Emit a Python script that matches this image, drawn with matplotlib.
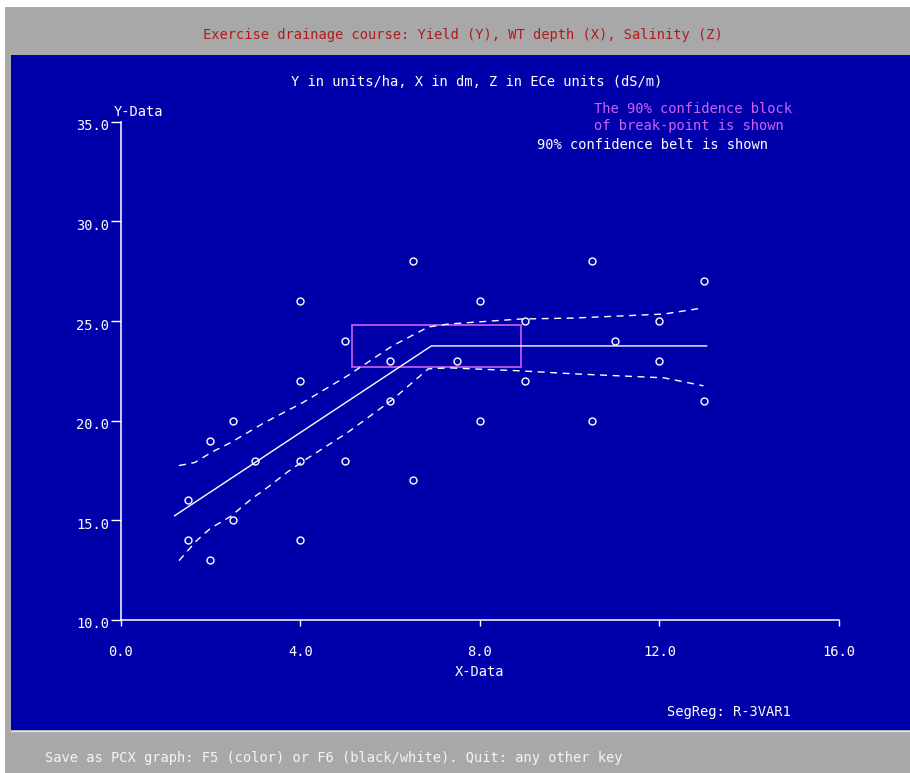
import matplotlib
matplotlib.use("Agg")
import matplotlib.pyplot as plt
import matplotlib.transforms as mtransforms
from matplotlib.patches import Rectangle
from matplotlib.lines import Line2D

W, H = 910, 773

# ---- data ----
pts_x = [1.5, 1.5, 2, 2, 2.5, 2.5, 3, 4, 4, 4, 4, 5, 5, 6, 6, 6.5, 6.5, 7.5,
         8, 8, 9, 9, 10.5, 10.5, 11, 12, 12, 13, 13]
pts_y = [16, 14, 19, 13, 20, 15, 18, 26, 22, 18, 14, 24, 18, 23, 21, 28, 17, 23,
         26, 20, 25, 22, 28, 20, 24, 25, 23, 27, 21]

fit_x = [1.2, 6.92, 13.05]
fit_y = [15.23, 23.75, 23.75]

up_x = [1.3, 1.65, 2.05, 2.45, 2.9, 3.2, 4.05, 5.05, 6.05, 6.85, 7.3, 8.9, 10.1, 12.1, 12.95]
up_y = [17.75, 17.9, 18.45, 18.9, 19.5, 19.9, 20.9, 22.25, 23.75, 24.7, 24.85, 25.1, 25.15, 25.35, 25.65]

lo_x = [1.3, 1.7, 2.0, 2.45, 2.9, 3.3, 3.7, 4.05, 5.05, 6.05, 6.85, 7.3, 8.9, 10.1, 12.1, 12.98]
lo_y = [12.98, 14.0, 14.6, 15.2, 16.05, 16.7, 17.4, 17.95, 19.4, 21.05, 22.6, 22.65, 22.5, 22.35, 22.15, 21.75]

block_x = [5.15, 8.92]
block_y = [22.7, 24.8]

xticks = [0.0, 4.0, 8.0, 12.0, 16.0]
yticks = [10.0, 15.0, 20.0, 25.0, 30.0, 35.0]

BLUE = "#0000AA"
GREY = "#A8A8A8"
RED = "#B01C1C"
MAG = "#D060F0"
FONT = "DejaVu Sans Mono"
FS = 9.9

plt.rcParams["font.family"] = FONT

fig = plt.figure(figsize=(W / 100, H / 100), dpi=100)
fig.patch.set_facecolor("white")

def fx(px):
    return px / W

def fy(py):
    return 1 - py / H

# frame
fig.patches.append(Rectangle((fx(5), 0), 1 - fx(5), fy(7), transform=fig.transFigure,
                             facecolor=GREY, edgecolor="none", zorder=-10))
fig.patches.append(Rectangle((fx(11), fy(730)), 1 - fx(11), fy(55) - fy(730),
                             transform=fig.transFigure, facecolor=BLUE, edgecolor="none", zorder=-9))
fig.lines.append(Line2D([fx(11), 1], [fy(730.5), fy(730.5)], transform=fig.transFigure,
                        color="#E0E0F0", lw=1.0, zorder=-8))

# axes
x0, x1 = 120.7, 839.0
y0, y1 = 620.0, 121.7
ax = fig.add_axes([fx(x0), fy(y0), fx(x1) - fx(x0), fy(y1) - fy(y0)])
ax.set_zorder(1)
ax.set_facecolor("none")
ax.set_xlim(0, 16)
ax.set_ylim(10, 35)
for s in ["top", "right"]:
    ax.spines[s].set_visible(False)
for s in ["left", "bottom"]:
    ax.spines[s].set_color("white")
    ax.spines[s].set_linewidth(1.1)
ax.set_xticks(xticks)
ax.set_xticklabels([f"{v:.1f}" for v in xticks])
ax.set_yticks(yticks)
ax.set_yticklabels([f"{v:.1f}" for v in yticks])
ax.tick_params(axis="x", direction="out", length=4, width=1.0, color="white",
               labelcolor="white", labelsize=FS, pad=14)
ax.tick_params(axis="y", direction="out", length=7.5, width=1.0, color="white",
               labelcolor="white", labelsize=FS, pad=1)
shift = mtransforms.ScaledTranslation(0, -3 / 100, fig.dpi_scale_trans)
for lab in ax.get_yticklabels():
    lab.set_transform(lab.get_transform() + shift)

# confidence block
ax.add_patch(Rectangle((block_x[0], block_y[0]), block_x[1] - block_x[0],
                       block_y[1] - block_y[0], facecolor="none", edgecolor=MAG, lw=1.2, zorder=3))

# lines
ax.plot(fit_x, fit_y, color="white", lw=1.0, zorder=4)
ax.plot(up_x, up_y, color="white", lw=1.0, dashes=(5, 4), zorder=4)
ax.plot(lo_x, lo_y, color="white", lw=1.0, dashes=(5, 4), zorder=4)

# points
ax.plot(pts_x, pts_y, linestyle="none", marker="o", markersize=5, mfc="none",
        mec="white", mew=1.0, zorder=5)

# texts
fig.text(fx(463), fy(35), "Exercise drainage course: Yield (Y), WT depth (X), Salinity (Z)",
         color=RED, fontsize=FS, ha="center", va="center")
fig.text(fx(477), fy(82), "Y in units/ha, X in dm, Z in ECe units (dS/m)",
         color="white", fontsize=FS, ha="center", va="center")
fig.text(fx(114), fy(112), "Y-Data", color="white", fontsize=FS, ha="left", va="center")
fig.text(fx(594), fy(109), "The 90% confidence block", color=MAG, fontsize=FS,
         ha="left", va="center")
fig.text(fx(594), fy(126), "of break-point is shown", color=MAG, fontsize=FS,
         ha="left", va="center")
fig.text(fx(537), fy(145), "90% confidence belt is shown", color="white", fontsize=FS,
         ha="left", va="center")
fig.text(fx(480), fy(672), "X-Data", color="white", fontsize=FS, ha="center", va="center")
fig.text(fx(667), fy(712), "SegReg: R-3VAR1", color="white", fontsize=FS,
         ha="left", va="center")
fig.text(fx(45), fy(758), "Save as PCX graph: F5 (color) or F6 (black/white). Quit: any other key",
         color="#F4F4F4", fontsize=FS, ha="left", va="center")

fig.savefig("out.png", dpi=100)
